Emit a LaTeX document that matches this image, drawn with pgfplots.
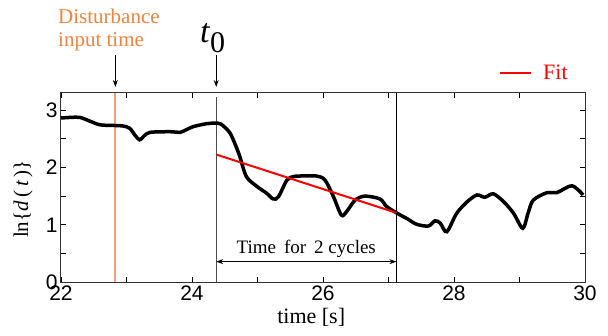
\documentclass[border=0pt]{standalone}
\usepackage{fontspec}
\setmainfont{Liberation Serif}
\setsansfont{Liberation Sans}
\usepackage{pgfplots}
\pgfplotsset{compat=1.18}
\usetikzlibrary{arrows.meta}
\definecolor{dorange}{RGB}{240,130,60}
\definecolor{lorange}{RGB}{248,160,115}
\pgfplotstableread{
x y
22.00 2.86
22.15 2.87
22.29 2.87
22.45 2.80
22.60 2.74
22.80 2.73
22.95 2.72
23.05 2.68
23.13 2.56
23.20 2.48
23.28 2.56
23.36 2.61
23.56 2.62
23.70 2.62
23.82 2.61
23.92 2.66
24.02 2.71
24.22 2.76
24.35 2.77
24.43 2.76
24.50 2.70
24.58 2.60
24.66 2.40
24.73 2.19
24.83 1.84
24.99 1.67
25.14 1.55
25.24 1.45
25.32 1.49
25.45 1.78
25.55 1.84
25.65 1.85
25.90 1.85
26.03 1.78
26.16 1.49
26.28 1.17
26.36 1.23
26.49 1.43
26.64 1.50
26.87 1.45
26.97 1.32
27.12 1.21
27.28 1.11
27.43 1.01
27.61 0.98
27.71 1.07
27.79 1.03
27.89 0.88
28.04 1.20
28.20 1.40
28.35 1.52
28.47 1.48
28.60 1.54
28.76 1.40
28.91 1.20
29.05 0.94
29.13 1.20
29.21 1.43
29.42 1.56
29.57 1.56
29.80 1.68
29.97 1.52
}\lnd
\begin{document}
\begin{tikzpicture}
\begin{axis}[name=ax, scale only axis, width=524pt, height=189.6pt,
 xmin=22, xmax=30, ymin=0, ymax=3.3,
 xtick={22,...,30}, xticklabels={22,,24,,26,,28,,30},
 ytick={0,0.5,...,3}, yticklabels={0,,1,,2,,3},
 tick align=inside, major tick length=5pt,
 tick style={black, line width=0.8pt},
 axis line style={line width=1pt, black!80},
 ticklabel style={font=\fontsize{21}{21}\selectfont\sffamily},
 /pgf/number format/assume math mode=true,
 clip=false,
]
\addplot[lorange, line width=1.8pt] coordinates {(22.83,0) (22.83,3.3)};
\addplot[black!70, line width=1.3pt] coordinates {(24.37,0) (24.37,3.23)};
\addplot[black, line width=0.9pt] coordinates {(27.12,0) (27.12,3.3)};
\addplot[black, line width=3.5pt, smooth, tension=0.5] table[x=x,y=y] {\lnd};
\addplot[red, line width=2pt] coordinates {(24.38,2.22) (27.12,1.21)};
\draw[-{Stealth[length=7pt,width=5pt]}, line width=0.8pt] (axis cs:22.83,3.96) -- (axis cs:22.83,3.40);
\draw[-{Stealth[length=7pt,width=5pt]}, line width=0.8pt] (axis cs:24.37,3.96) -- (axis cs:24.37,3.40);
\draw[{Stealth[length=7pt,width=5pt]}-{Stealth[length=7pt,width=5pt]}, line width=0.8pt] (axis cs:24.37,0.36) -- (axis cs:27.12,0.36);
\node[anchor=base, font=\fontsize{19}{19}\selectfont, inner sep=0pt] at (axis cs:25.745,0.51) {Time\, for\, 2 cycles};
\node[anchor=base west, text=dorange, font=\fontsize{21}{21}\selectfont, inner sep=0pt] at (axis cs:21.954,4.51) {Disturbance};
\node[anchor=base west, text=dorange, font=\fontsize{21}{21}\selectfont, inner sep=0pt] at (axis cs:21.954,4.10) {input time};
\node[anchor=base west, font=\fontsize{34}{34}\selectfont, inner sep=0pt] at (axis cs:24.12,4.17) {\textit{t}\raisebox{-10pt}{\fontsize{30}{30}\selectfont 0}};
\draw[red, line width=2pt] (axis cs:28.702,3.639) -- (axis cs:29.176,3.639);
\node[anchor=base west, text=red, font=\fontsize{22}{22}\selectfont, inner sep=0pt] at (axis cs:29.359,3.523) {Fit};
\node[rotate=90, font=\fontsize{21}{21}\selectfont, inner sep=0pt] at (axis cs:21.42,1.45) {ln\{\textit{d}\,(\,\textit{t}\,)\}};
\node[anchor=base, font=\fontsize{22}{22}\selectfont, inner sep=0pt] at (axis cs:25.82,-0.71) {time [s]};
\end{axis}
\pgfresetboundingbox
\path (ax.south west) ++(-61pt,-52.7pt) rectangle ++(608pt,335pt);
\end{tikzpicture}
\end{document}
